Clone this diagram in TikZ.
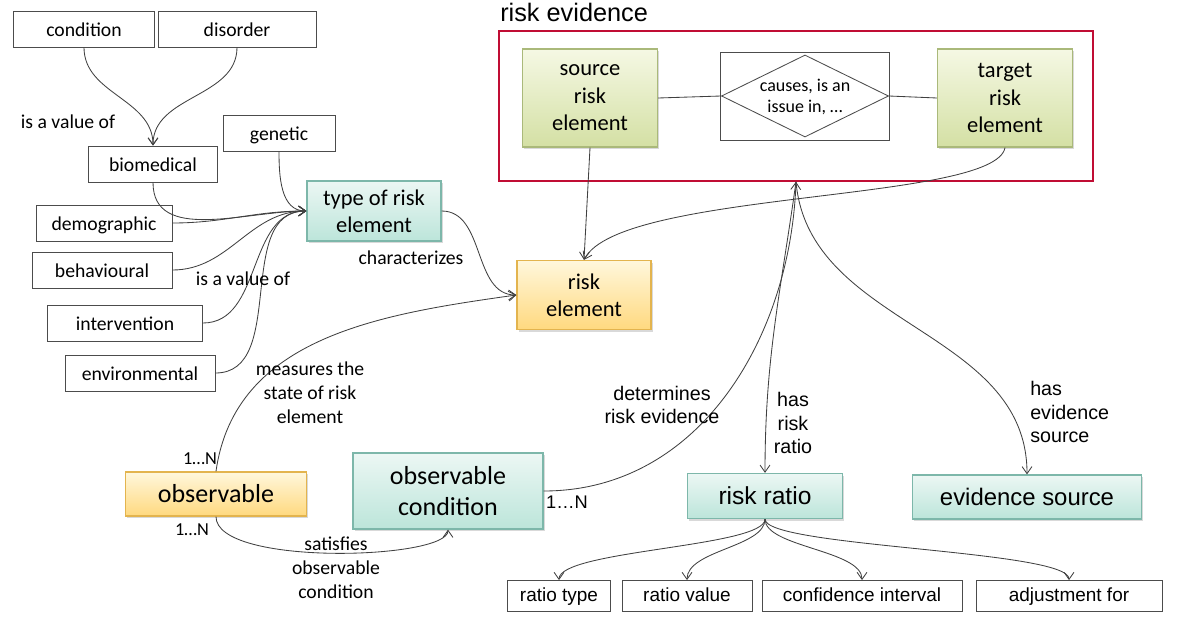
\documentclass[tikz,border=0pt]{standalone}
\usepackage{fontspec}
\setmainfont{Carlito}
\newfontfamily\arialfont{Liberation Sans}
\usetikzlibrary{arrows.meta,shapes.geometric,shadows}
\definecolor{tealtop}{HTML}{ECF7F4}
\definecolor{tealbot}{HTML}{BCE5DA}
\definecolor{tealline}{HTML}{7DB7AA}
\definecolor{yeltop}{HTML}{FFF7DC}
\definecolor{yelbot}{HTML}{FFD97F}
\definecolor{yelline}{HTML}{E3B44E}
\definecolor{grntop}{HTML}{F5F8E4}
\definecolor{grnbot}{HTML}{D4E0A4}
\definecolor{grnline}{HTML}{AAB97A}
\definecolor{framered}{HTML}{C00D34}

\begin{document}
\begin{tikzpicture}[x=0.025cm,y=-0.025cm,
    line/.style={draw=black!75,line width=0.6pt},
    arr/.style={line,-{Straight Barb[length=5pt,width=7pt]}},
    valbox/.style={draw=black!70,line width=0.6pt,fill=white,inner sep=0pt,
      minimum height=0.9cm,text height=12pt,text depth=2pt,font=\fontsize{14}{17}\selectfont},
    leafbox/.style={valbox,minimum height=0.775cm,text height=9.5pt,text depth=2.3pt,
      font=\arialfont\fontsize{13.5}{16}\selectfont},
    colbox/.style={line width=0.9pt,inner sep=0pt,align=center,
      drop shadow={shadow xshift=1.2pt,shadow yshift=-1.5pt,opacity=0.3}},
    oneline/.style={text height=15pt,text depth=2.5pt},
    tealbox/.style={colbox,draw=tealline,top color=tealtop,bottom color=tealbot},
    yelbox/.style={colbox,draw=yelline,top color=yeltop,bottom color=yelbot},
    grnbox/.style={colbox,draw=grnline,top color=grntop,bottom color=grnbot,
      minimum width=3.375cm,minimum height=2.45cm,font=\fontsize{16}{19.5}\selectfont},
    lbl/.style={inner sep=0pt,align=center,font=\fontsize{14}{17}\selectfont},
    albl/.style={inner sep=0pt,align=center,font=\arialfont\fontsize{14}{17}\selectfont}
  ]
    \useasboundingbox (0,0) rectangle (1200,630);

    % Values of the type of risk element
    \node[valbox,minimum width=3.525cm] (condition) at (84,29) {condition};
    \node[valbox,minimum width=3.95cm] (disorder) at (237,29) {disorder};
    \node[valbox,minimum width=3.225cm] (biomedical) at (153,164) {biomedical};
    \node[valbox,minimum width=2.8cm] (genetic) at (279,133) {genetic};
    \node[valbox,minimum width=3.4cm] (demographic) at (104,223) {demographic};
    \node[valbox,minimum width=3.5cm] (behavioural) at (102,270) {behavioural};
    \node[valbox,minimum width=3.875cm] (intervention) at (125,323) {intervention};
    \node[valbox,minimum width=3.75cm] (environmental) at (140,373) {environmental};

    \node[tealbox,minimum width=3.35cm,minimum height=1.5cm,font=\fontsize{16}{19.5}\selectfont]
      (type) at (374,211) {type of risk\\element};
    \node[yelbox,minimum width=3.35cm,minimum height=1.725cm,font=\fontsize{16}{19.5}\selectfont]
      (riskel) at (584,295) {risk\\element};

    % Risk evidence frame
    \node[draw=framered,line width=1.1pt,minimum width=14.85cm,minimum height=3.75cm,inner sep=0pt]
      (evidence) at (796,106) {};
    \node[anchor=base west,inner sep=0pt,font=\arialfont\fontsize{18}{20}\selectfont]
      (evtitle) at (500,22) {risk evidence};
    \node[grnbox] (source) at (590,98) {source\\risk\\element};
    \node[grnbox] (target) at (1005,98) {target\\risk\\element};
    \node[draw=black!70,line width=0.6pt,fill=white,minimum width=4.225cm,minimum height=2.2cm,inner sep=0pt]
      (relbox) at (805,96) {};
    \node[diamond,draw=black!70,line width=0.6pt,minimum width=4.175cm,minimum height=2.05cm,inner sep=0pt]
      (rel) at (805,96) {};
    \node[inner sep=0pt,align=center,font=\fontsize{12.8}{15.5}\selectfont]
      (reltext) at (805,97) {causes, is an\\issue in, \dots};
    \draw[line] (source.east) -- (rel.west);
    \draw[line] (rel.east) -- (target.west);

    % Lower row
    \node[yelbox,oneline,minimum width=4.525cm,minimum height=1.1cm,font=\fontsize{18.5}{22}\selectfont]
      (observable) at (216,494) {observable};
    \node[tealbox,minimum width=4.75cm,minimum height=1.9cm,font=\fontsize{18.5}{22}\selectfont]
      (obscond) at (448,491) {observable\\condition};
    \node[tealbox,oneline,minimum width=3.875cm,minimum height=1.125cm,font=\arialfont\fontsize{17.5}{20}\selectfont]
      (riskratio) at (765,496) {risk ratio};
    \node[tealbox,oneline,minimum width=5.725cm,minimum height=1.1cm,font=\arialfont\fontsize{17}{20}\selectfont]
      (evsource) at (1027,497) {evidence source};

    % Parts of the risk ratio
    \node[leafbox,minimum width=2.575cm] (ratiotype) at (559,596) {ratio type};
    \node[leafbox,minimum width=3.25cm] (ratiovalue) at (687,596) {ratio value};
    \node[leafbox,minimum width=5cm] (confint) at (862,596) {confidence interval};
    \node[leafbox,minimum width=4.65cm] (adjust) at (1069,596) {adjustment for};

    % Connectors
    \draw[arr] (condition.south) to[out=-90,in=90] (biomedical.north);
    \draw[arr] (disorder.south) to[out=-90,in=90] (biomedical.north);
    \foreach \v in {biomedical,genetic}
      \draw[arr] (\v.south) to[out=-90,in=180] (type.west);
    \foreach \v in {demographic,behavioural,intervention,environmental}
      \draw[arr] (\v.east) to[out=0,in=180] (type.west);
    \draw[arr] (type.east) to[out=0,in=180] (riskel.west);
    \draw[arr] (observable.north) to[out=82,in=188] (riskel.west);
    \draw[arr] (source.south) -- (riskel.north);
    \draw[arr] (target.south) .. controls +(-10,55) and +(36,-70) .. (riskel.north);
    \draw[arr] (obscond.east) to[out=0,in=-92] (evidence.south);
    \draw[arr] (evidence.south) to[out=-98,in=90] (riskratio.north);
    \draw[arr] (evidence.south) to[out=-85,in=90] (evsource.north);
    \draw[arr] (observable.south) .. controls +(0,50) and +(0,30) .. (obscond.south);
    \foreach \l in {ratiotype,ratiovalue,confint,adjust}
      \draw[arr] (riskratio.south) .. controls +(0,28) and +(0,-30) .. (\l.north);

    % Connector labels
    \node[lbl] (isval1) at (68,122) {is a value of};
    \node[lbl] (isval2) at (243,279) {is a value of};
    \node[lbl] (charact) at (411,258) {characterizes};
    \node[lbl] (measures) at (310,393) {measures the\\state of risk\\element};
    \node[lbl,font=\fontsize{13}{15}\selectfont] (card1) at (200,459) {1\dots N};
    \node[lbl,font=\fontsize{13}{15}\selectfont] (card2) at (192,530) {1\dots N};
    \node[lbl] (satisfies) at (336,568) {satisfies\\observable\\condition};
    \node[albl,font=\arialfont\fontsize{13}{15}\selectfont] (card3) at (567,502) {1\dots N};
    \node[albl] (determines) at (662,405) {determines\\risk evidence};
    \node[albl] (hasratio) at (793,423) {has\\risk\\ratio};
    \node[albl,align=left,anchor=west] (hassource) at (1030,412) {has\\evidence\\source};
\end{tikzpicture}
\end{document}
